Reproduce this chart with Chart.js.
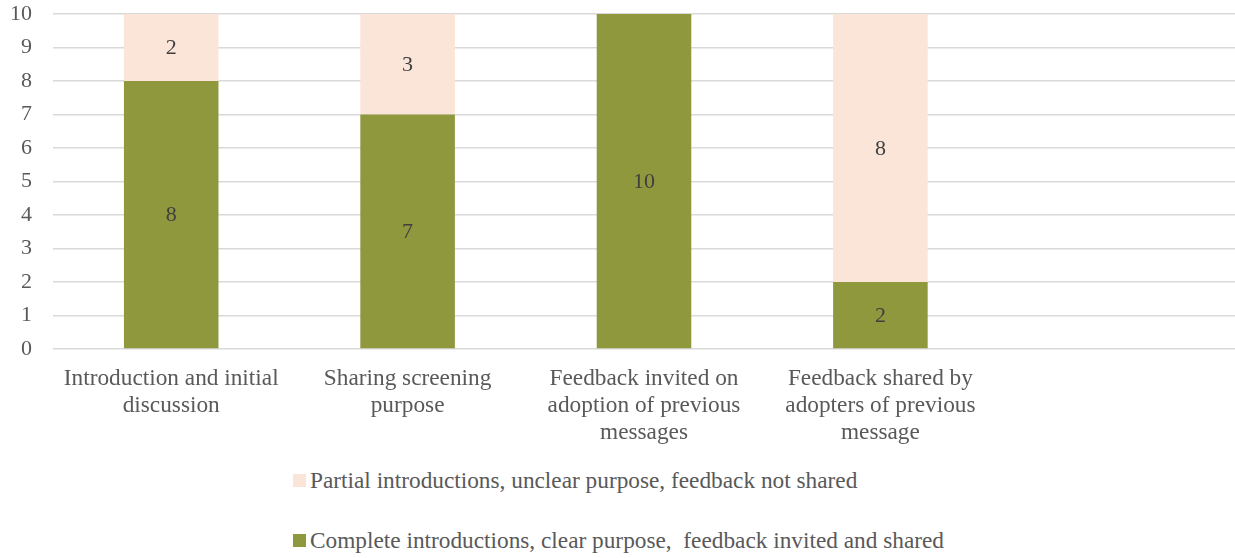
<!DOCTYPE html>
<html>
<head>
<meta charset="utf-8">
<script src="https://cdn.jsdelivr.net/npm/chart.js@4"></script>
<style>
  body { margin: 0; background: #fff; font-family: "Liberation Serif", serif; }
  #wrap { position: relative; width: 1235px; height: 558px; }
  #legend { position: absolute; left: 293px; top: 466px; color: #595959; font-size: 23.3px; }
  .item { display: flex; align-items: center; height: 28px; margin-bottom: 32px; white-space: pre; }
  .box { width: 13px; height: 13px; margin-right: 4px; }
</style>
</head>
<body>
<div id="wrap">
  <canvas id="myChart" width="1235" height="449"></canvas>
  <div id="legend"></div>
</div>
<script>
const categories = [
  ['Introduction and initial', 'discussion'],
  ['Sharing screening', 'purpose'],
  ['Feedback invited on', 'adoption of previous', 'messages'],
  ['Feedback shared by', 'adopters of previous', 'message'],
  ''
];
const completeValues = [8, 7, 10, 2, null];
const partialValues = [2, 3, null, 8, null];
const completeLabel = 'Complete introductions, clear purpose,  feedback invited and shared';
const partialLabel = 'Partial introductions, unclear purpose, feedback not shared';

const textColor = '#595959';
const fontFamily = '"Liberation Serif", serif';

// write the value in the middle of every bar segment
const segmentLabels = {
  id: 'segmentLabels',
  afterDatasetsDraw(chart) {
    const ctx = chart.ctx;
    ctx.save();
    ctx.font = '22px ' + fontFamily;
    ctx.fillStyle = '#404040';
    ctx.textAlign = 'center';
    ctx.textBaseline = 'middle';
    chart.data.datasets.forEach((ds, i) => {
      chart.getDatasetMeta(i).data.forEach((bar, j) => {
        const v = ds.data[j];
        if (v == null) return;
        ctx.fillText(String(v), bar.x, (bar.y + bar.base) / 2 + 1);
      });
    });
    ctx.restore();
  }
};

const chart = new Chart(document.getElementById('myChart'), {
  type: 'bar',
  data: {
    labels: categories,
    datasets: [
      {
        label: completeLabel,
        data: completeValues,
        backgroundColor: 'rgb(143, 152, 61)',
        barPercentage: 0.4,
        categoryPercentage: 1
      },
      {
        label: partialLabel,
        data: partialValues,
        backgroundColor: 'rgb(250, 229, 216)',
        barPercentage: 0.4,
        categoryPercentage: 1
      }
    ]
  },
  options: {
    responsive: false,
    animation: false,
    layout: { padding: { top: 14, right: 0, left: 0, bottom: 0 } },
    plugins: {
      legend: { display: false },
      tooltip: { enabled: false }
    },
    scales: {
      x: {
        stacked: true,
        grid: { display: false },
        border: { display: false },
        afterFit(scale) {
          scale.paddingLeft = 0;
          scale.paddingRight = 0;
          scale.height = 100;
        },
        ticks: {
          color: textColor,
          font: { family: fontFamily, size: 23.3, lineHeight: 1.16 },
          maxRotation: 0,
          autoSkip: false,
          padding: 8
        }
      },
      y: {
        stacked: true,
        min: 0,
        max: 10,
        grid: { color: '#d9d9d9', lineWidth: 1.5, drawTicks: false },
        border: { display: false },
        afterFit(scale) {
          scale.width = 53;
          scale.paddingTop = 0;
          scale.paddingBottom = 0;
        },
        ticks: {
          stepSize: 1,
          color: textColor,
          font: { family: fontFamily, size: 22 },
          padding: 21
        }
      }
    }
  },
  plugins: [segmentLabels]
});

// legend listed top to bottom, partial first
const legend = document.getElementById('legend');
[chart.data.datasets[1], chart.data.datasets[0]].forEach(ds => {
  const item = document.createElement('div');
  item.className = 'item';
  const box = document.createElement('span');
  box.className = 'box';
  box.style.background = ds.backgroundColor;
  item.appendChild(box);
  item.appendChild(document.createTextNode(ds.label));
  legend.appendChild(item);
});
</script>
</body>
</html>
